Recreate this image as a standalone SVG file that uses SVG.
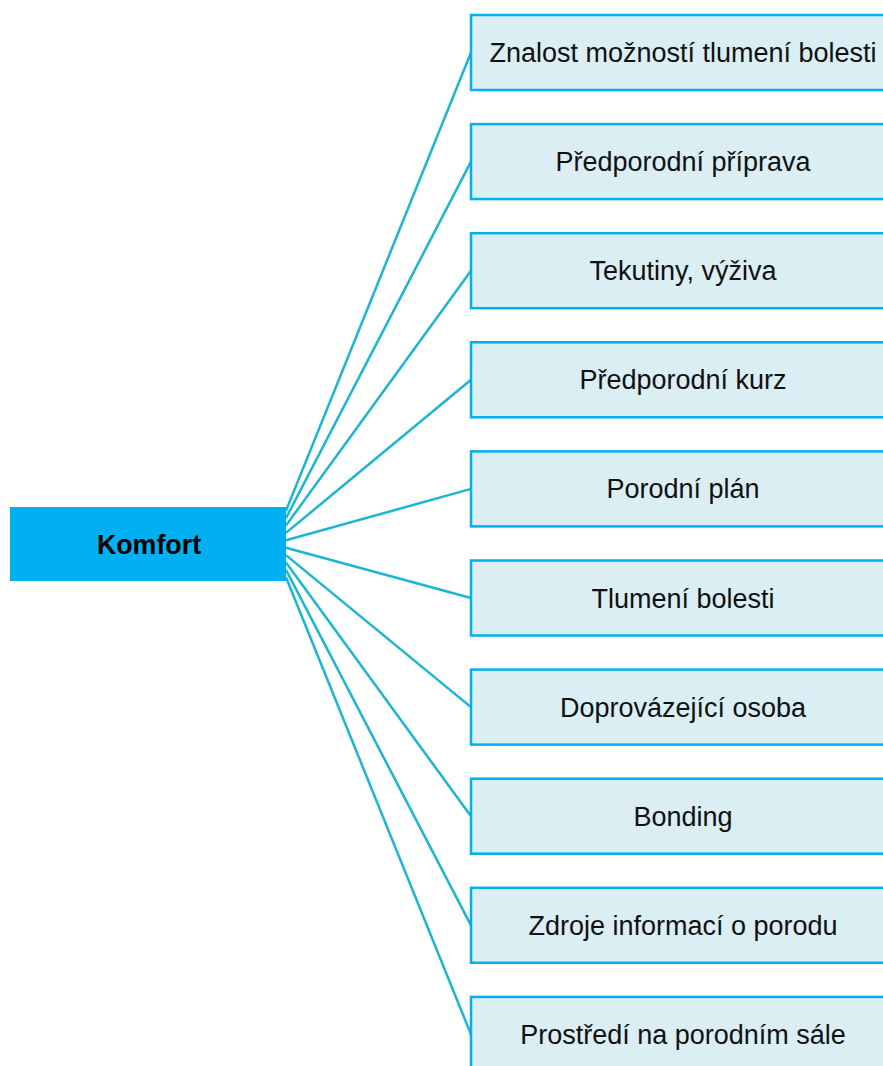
<svg xmlns="http://www.w3.org/2000/svg" width="883" height="1066" viewBox="0 0 883 1066">
<style>
.c{stroke:#1AB6D2;stroke-width:2.5;fill:none}
.b{fill:#DAEEF3;stroke:#00B0F0;stroke-width:2.5}
.t{font-family:"Liberation Sans",Arial,sans-serif;font-size:27px;fill:#111;text-anchor:middle}
.r{fill:#00B0F0}
.rt{font-family:"Liberation Sans",Arial,sans-serif;font-size:26.8px;font-weight:bold;fill:#000;text-anchor:middle}
</style>
<rect width="883" height="1066" fill="#fff"/>
<g id="connectors">
<line class="c" x1="286" y1="510.7" x2="471" y2="52.5"/>
<line class="c" x1="286" y1="518.1" x2="471" y2="161.6"/>
<line class="c" x1="286" y1="525.5" x2="471" y2="270.7"/>
<line class="c" x1="286" y1="532.9" x2="471" y2="379.8"/>
<line class="c" x1="286" y1="540.3" x2="471" y2="488.9"/>
<line class="c" x1="286" y1="547.7" x2="471" y2="598"/>
<line class="c" x1="286" y1="555.1" x2="471" y2="707.1"/>
<line class="c" x1="286" y1="562.5" x2="471" y2="816.2"/>
<line class="c" x1="286" y1="569.9" x2="471" y2="925.3"/>
<line class="c" x1="286" y1="577.3" x2="471" y2="1034.4"/>
</g>
<g id="komfort">
<rect class="r" x="10" y="507" width="276" height="74"/>
<text class="rt" x="149" y="553.5">Komfort</text>
</g>
<g id="n1"><rect class="b" x="471" y="15" width="424" height="75"/><text class="t" x="683" y="62">Znalost možností tlumení bolesti</text></g>
<g id="n2"><rect class="b" x="471" y="124.1" width="424" height="75"/><text class="t" x="683" y="171.1">Předporodní příprava</text></g>
<g id="n3"><rect class="b" x="471" y="233.2" width="424" height="75"/><text class="t" x="683" y="280.2">Tekutiny, výživa</text></g>
<g id="n4"><rect class="b" x="471" y="342.3" width="424" height="75"/><text class="t" x="683" y="389.3">Předporodní kurz</text></g>
<g id="n5"><rect class="b" x="471" y="451.4" width="424" height="75"/><text class="t" x="683" y="498.4">Porodní plán</text></g>
<g id="n6"><rect class="b" x="471" y="560.5" width="424" height="75"/><text class="t" x="683" y="607.5">Tlumení bolesti</text></g>
<g id="n7"><rect class="b" x="471" y="669.6" width="424" height="75"/><text class="t" x="683" y="716.6">Doprovázející osoba</text></g>
<g id="n8"><rect class="b" x="471" y="778.7" width="424" height="75"/><text class="t" x="683" y="825.7">Bonding</text></g>
<g id="n9"><rect class="b" x="471" y="887.8" width="424" height="75"/><text class="t" x="683" y="934.8">Zdroje informací o porodu</text></g>
<g id="n10"><rect class="b" x="471" y="996.9" width="424" height="75"/><text class="t" x="683" y="1043.9">Prostředí na porodním sále</text></g>
</svg>
